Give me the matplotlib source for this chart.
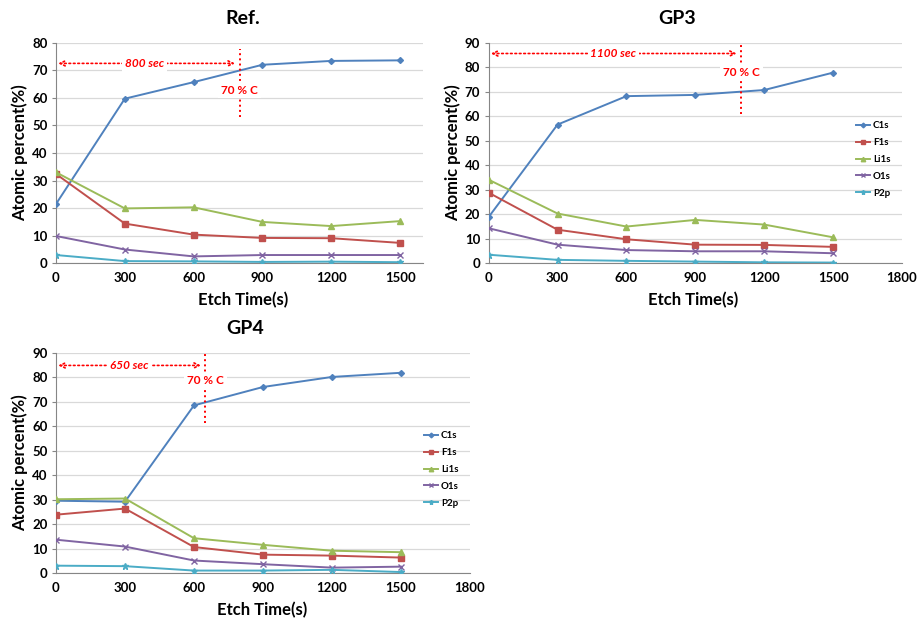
import matplotlib
matplotlib.use("Agg")
import matplotlib.pyplot as plt

plt.rcParams['font.family'] = ['Lato', 'DejaVu Sans']
plt.rcParams['font.weight'] = 'bold'

times = [0, 300, 600, 900, 1200, 1500]
elements = ["C1s", "F1s", "Li1s", "O1s", "P2p"]

# Ref.
ref_c1s = [21.5, 59.7, 65.7, 72.0, 73.4, 73.6]
ref_f1s = [32.4, 14.4, 10.4, 9.2, 9.1, 7.4]
ref_li1s = [33.0, 19.9, 20.3, 15.0, 13.5, 15.3]
ref_o1s = [9.9, 5.0, 2.5, 3.0, 3.0, 3.0]
ref_p2p = [3.0, 0.8, 0.7, 0.5, 0.6, 0.4]

# GP3
gp3_c1s = [18.9, 56.6, 68.2, 68.7, 70.7, 77.8]
gp3_f1s = [28.8, 13.7, 9.8, 7.6, 7.5, 6.7]
gp3_li1s = [34.1, 20.3, 15.0, 17.7, 15.8, 10.6]
gp3_o1s = [14.3, 7.6, 5.4, 4.9, 4.9, 4.1]
gp3_p2p = [3.5, 1.4, 1.0, 0.7, 0.4, 0.3]

# GP4
gp4_c1s = [29.6, 29.2, 68.5, 76.0, 80.1, 81.8]
gp4_f1s = [23.9, 26.4, 10.7, 7.6, 7.2, 6.4]
gp4_li1s = [30.2, 30.5, 14.3, 11.6, 9.2, 8.6]
gp4_o1s = [13.7, 10.9, 5.2, 3.7, 2.3, 2.7]
gp4_p2p = [3.1, 2.9, 1.1, 1.1, 1.4, 0.5]

colors = ["#4F81BD", "#C0504D", "#9BBB59", "#8064A2", "#4BACC6"]
markers = ["D", "s", "^", "x", "*"]
msizes = [3, 4, 4, 4, 4.5]

RED = "#FF0000"


def draw_panel(ax, series, xmax, ymax, t_cross, arrow_y, sec_x, c_y, line_top, line_bot,
               show_legend):
    for vals, name, col, mk, ms in zip(series, elements, colors, markers, msizes):
        ax.plot(times, vals, color=col, marker=mk, markersize=ms, lw=1.4,
                markeredgewidth=1.0, label=name, zorder=3)

    ax.set_xlim(0, xmax)
    ax.set_ylim(0, ymax)
    ax.set_xticks(range(0, xmax + 1, 300))
    ax.set_yticks(range(0, ymax + 1, 10))
    ax.grid(axis="y", color="#d9d9d9", lw=0.9)
    ax.set_axisbelow(True)
    for s in ["top", "right"]:
        ax.spines[s].set_visible(False)
    for s in ["left", "bottom"]:
        ax.spines[s].set_color("#868686")
    ax.tick_params(axis="both", labelsize=9.5, length=3, color="#868686", pad=3)
    ax.tick_params(axis="x", length=0, pad=6)
    for lab in ax.get_xticklabels() + ax.get_yticklabels():
        lab.set_fontweight("bold")

    # 70 % C marker line and time arrow
    ax.plot([t_cross, t_cross], [line_bot, line_top], color=RED, ls=":", lw=1.4, zorder=4,
            clip_on=False)
    ax.annotate("", xy=(t_cross - 20, arrow_y), xytext=(10, arrow_y),
                arrowprops=dict(arrowstyle="<->", color=RED, ls=":", lw=1.2,
                                mutation_scale=9, shrinkA=0, shrinkB=0), zorder=4)
    ax.text(sec_x, arrow_y, f"{t_cross} sec", color=RED, fontsize=8.5, fontstyle="italic",
            fontweight="bold", ha="center", va="center", zorder=5,
            bbox=dict(facecolor="white", edgecolor="none", pad=2))
    ax.text(t_cross, c_y, "70 % C", color=RED, fontsize=8.5, fontweight="bold",
            ha="center", va="center", zorder=5,
            bbox=dict(facecolor="white", edgecolor="none", pad=2))

    if show_legend:
        ax.legend(loc="upper left", bbox_to_anchor=(0.878, 0.665), frameon=False,
                  fontsize=7, handlelength=1.4, handletextpad=0.3, labelspacing=0.8,
                  markerscale=0.8, borderpad=0)


fig = plt.figure(figsize=(9.21, 6.29), dpi=100)

ax1 = fig.add_axes([0.0608, 0.5814, 0.3985, 0.3507])
draw_panel(ax1, [ref_c1s, ref_f1s, ref_li1s, ref_o1s, ref_p2p], 1600, 80,
           800, 72.5, 387, 62.8, 77.6, 52.9, False)
ax1.set_xticks(times)

ax2 = fig.add_axes([0.5306, 0.5814, 0.4488, 0.3507])
draw_panel(ax2, [gp3_c1s, gp3_f1s, gp3_li1s, gp3_o1s, gp3_p2p], 1800, 90,
           1100, 85.6, 543, 77.8, 89.5, 60.9, True)

ax3 = fig.add_axes([0.0608, 0.0886, 0.4495, 0.3507])
draw_panel(ax3, [gp4_c1s, gp4_f1s, gp4_li1s, gp4_o1s, gp4_p2p], 1800, 90,
           650, 84.8, 319, 78.8, 90, 61.4, True)

# titles and axis labels placed like the original chart areas
fig.text(243 / 921, 1 - 18 / 629, "Ref.", fontsize=14, fontweight="bold", ha="center", va="center")
fig.text(677 / 921, 1 - 18 / 629, "GP3", fontsize=14, fontweight="bold", ha="center", va="center")
fig.text(245 / 921, 1 - 328 / 629, "GP4", fontsize=14, fontweight="bold", ha="center", va="center")

for cx, cy in [(243, 300), (693, 300), (262, 610)]:
    fig.text(cx / 921, 1 - cy / 629, "Etch Time(s)", fontsize=12, fontweight="bold",
             ha="center", va="center")
for cx, cy in [(20, 153), (453, 153), (20, 463)]:
    fig.text(cx / 921, 1 - cy / 629, "Atomic percent(%)", fontsize=12, fontweight="bold",
             ha="center", va="center", rotation=90)

plt.savefig("out.png", dpi=100)
plt.close()
